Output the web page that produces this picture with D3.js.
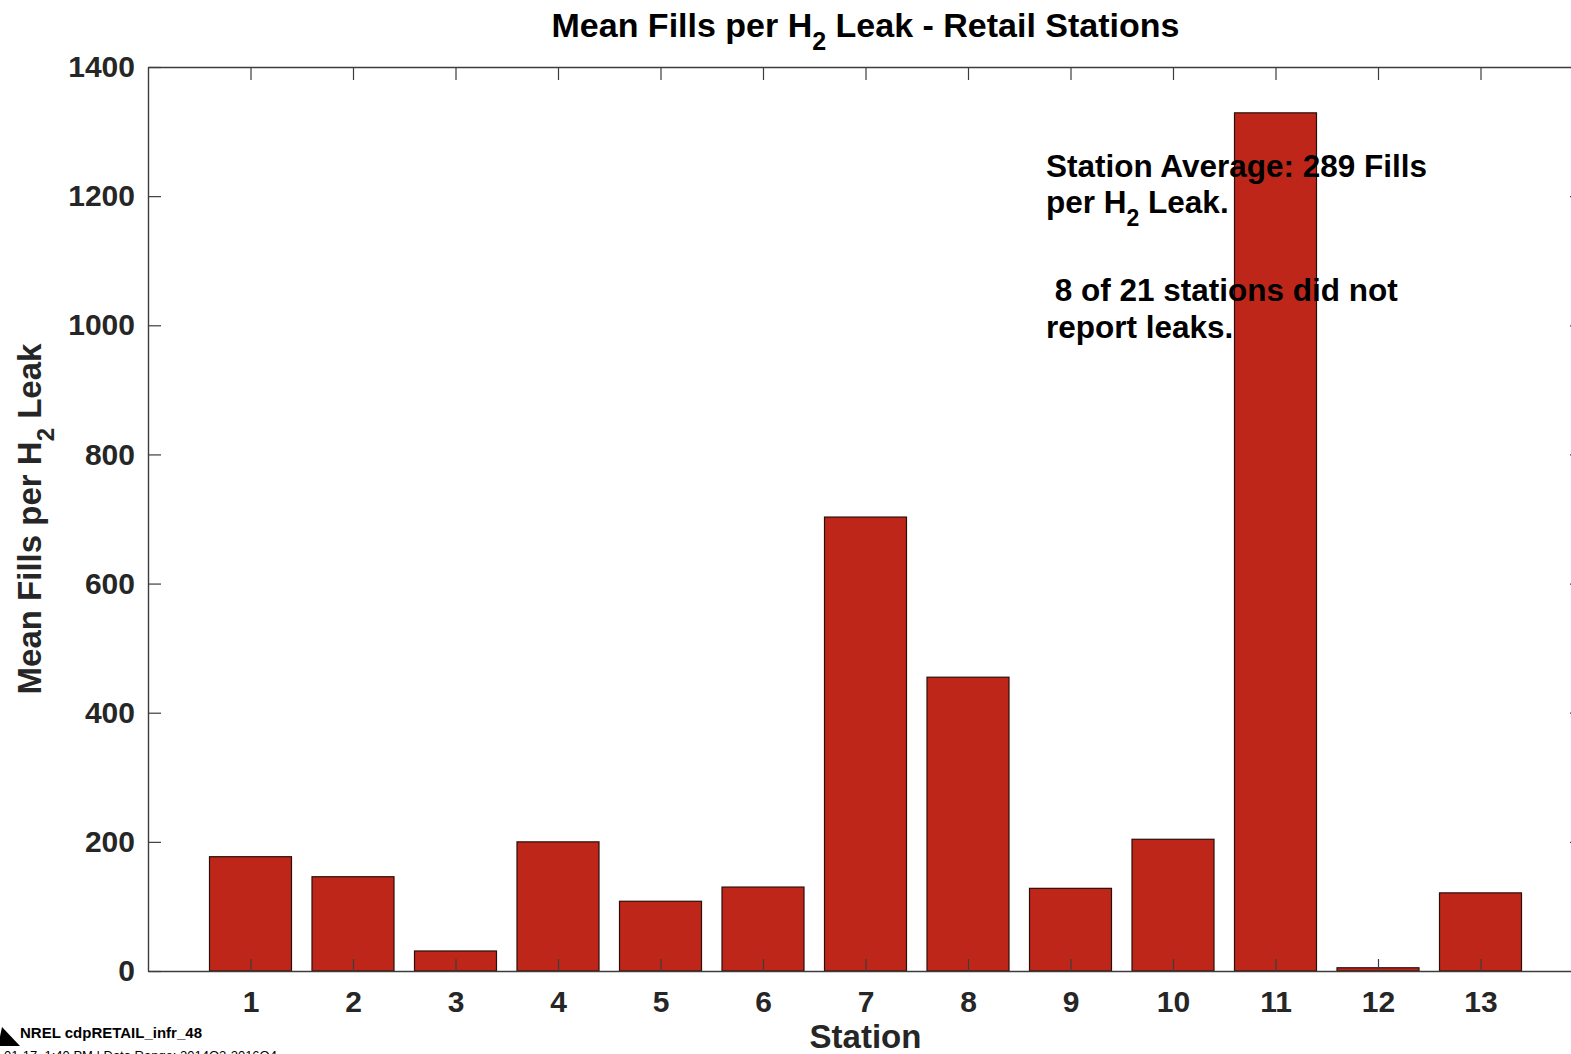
<!DOCTYPE html>
<html>
<head>
<meta charset="utf-8">
<script src="https://cdn.jsdelivr.net/npm/d3@7"></script>
<style>
  html, body { margin: 0; padding: 0; background: #fff; overflow: hidden; }
  svg { display: block; font-family: "Liberation Sans", Arial, Helvetica, sans-serif; font-weight: bold; }
</style>
</head>
<body>
<svg id="chart" width="1571" height="1054"></svg>
<script>
// ---- data ----
const stations = [1, 2, 3, 4, 5, 6, 7, 8, 9, 10, 11, 12, 13];
const fillsPerLeak = [177, 146, 31, 200, 108, 130, 703, 455, 128, 204, 1329, 5, 121];
const yTicks = [0, 200, 400, 600, 800, 1000, 1200, 1400];
const titleParts = ["Mean Fills per H", "2", " Leak - Retail Stations"];
const yLabelParts = ["Mean Fills per H", "2", " Leak"];
const xLabel = "Station";
const noteLines = [
  ["Station Average: 289 Fills"],
  ["per H", "2", " Leak."],
  [],
  ["\u00a08 of 21 stations did not"],
  ["report leaks."]
];
const footer1 = "NREL cdpRETAIL_infr_48";
const footer2 = "01-17, 1:40 PM | Data Range: 2014Q2-2016Q4";

// ---- layout ----
const svg = d3.select("#chart");
const pL = 148, pR = 1583, pT = 67, pB = 971;
const axisColor = "#3c3c3c", textColor = "#262626";

const x = d3.scaleLinear().domain([0, 14]).range([pL, pR]);
const y = d3.scaleLinear().domain([0, 1400]).range([pB, pT]);
const barW = x(0.8) - x(0);

// bars
svg.append("g").selectAll("rect")
  .data(stations.map((s, i) => ({ s, v: fillsPerLeak[i] })))
  .join("rect")
  .attr("x", d => x(d.s) - barW / 2)
  .attr("y", d => y(d.v))
  .attr("width", barW)
  .attr("height", d => y(0) - y(d.v))
  .attr("fill", "#be2619")
  .attr("stroke", "#2a0e0a")
  .attr("stroke-width", 1.2);

function styleAxis(g) {
  g.selectAll("path.domain").attr("stroke", axisColor).attr("stroke-width", 1.4);
  g.selectAll(".tick line").attr("stroke", axisColor).attr("stroke-width", 1.2);
  g.selectAll(".tick text").attr("fill", textColor)
    .style("font-family", '"Liberation Sans", Arial, sans-serif')
    .style("font-weight", "bold").style("font-size", "30px");
}

// bottom axis
svg.append("g").attr("transform", `translate(0,${pB})`)
  .call(d3.axisBottom(x).tickValues(stations).tickFormat(d3.format("d"))
    .tickSizeInner(-12).tickSizeOuter(0).tickPadding(20))
  .call(styleAxis);
// top axis
svg.append("g").attr("transform", `translate(0,${pT})`)
  .call(d3.axisTop(x).tickValues(stations).tickFormat("")
    .tickSizeInner(-13).tickSizeOuter(0))
  .call(styleAxis);
// left axis
svg.append("g").attr("transform", `translate(${pL},0)`)
  .call(d3.axisLeft(y).tickValues(yTicks).tickFormat(d3.format("d"))
    .tickSizeInner(-13).tickSizeOuter(0).tickPadding(13))
  .call(styleAxis);
// right axis
svg.append("g").attr("transform", `translate(${pR},0)`)
  .call(d3.axisRight(y).tickValues(yTicks).tickFormat("")
    .tickSizeInner(-13).tickSizeOuter(0))
  .call(styleAxis);

// helper for subscripted text
function subText(sel, parts, subSize, shift) {
  parts.forEach((p, i) => {
    const t = sel.append("tspan").text(p);
    if (i === 1) t.attr("font-size", subSize).attr("dy", shift);
    else if (i === 2) t.attr("dy", -shift);
  });
}

// title
const title = svg.append("text")
  .attr("x", (pL + pR) / 2).attr("y", 37)
  .attr("text-anchor", "middle").attr("font-size", 34).attr("fill", "#000");
subText(title, titleParts, 25, 13);

// x label
svg.append("text").attr("x", (pL + pR) / 2).attr("y", 1048)
  .attr("text-anchor", "middle").attr("font-size", 33).attr("fill", textColor)
  .text(xLabel);

// y label
const yl = svg.append("text")
  .attr("transform", `translate(41,${(pT + pB) / 2}) rotate(-90)`)
  .attr("text-anchor", "middle").attr("font-size", 33).attr("fill", textColor);
subText(yl, yLabelParts, 24, 13);

// annotation
const noteY = [177, 213, 0, 301, 338];
noteLines.forEach((parts, i) => {
  if (!parts.length) return;
  const t = svg.append("text").attr("x", 1046).attr("y", noteY[i])
    .attr("font-size", 31.5).attr("fill", "#000");
  subText(t, parts, 23, 13);
});

// footer
svg.append("path").attr("d", "M-2,1046 L2,1027 L20,1046 Z").attr("fill", "#000");
svg.append("text").attr("x", 20).attr("y", 1038).attr("font-size", 15)
  .attr("fill", "#000").text(footer1);
svg.append("text").attr("x", 4).attr("y", 1060).attr("font-size", 13)
  .attr("font-weight", "normal").attr("fill", "#000").text(footer2);
</script>
</body>
</html>
